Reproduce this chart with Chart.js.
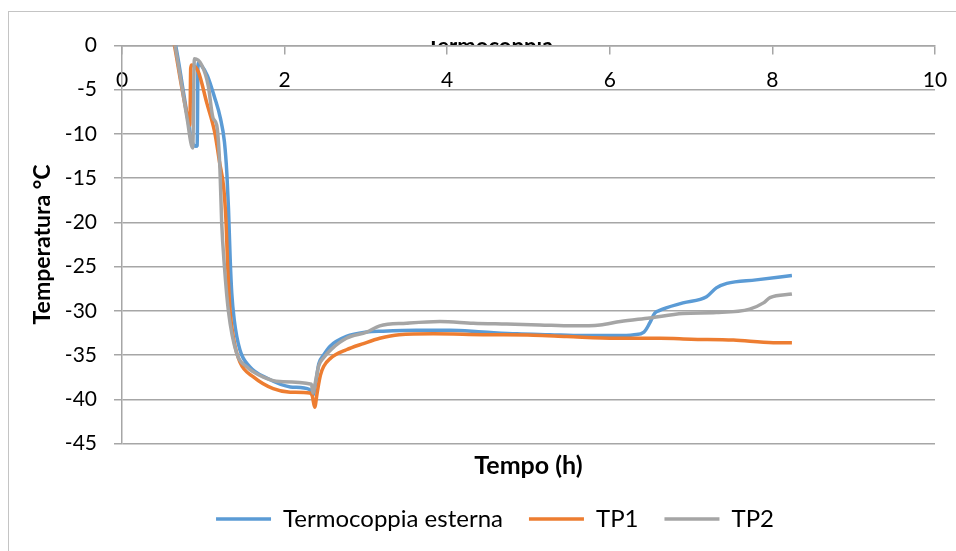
<!DOCTYPE html>
<html>
<head>
<meta charset="utf-8">
<script src="https://cdn.jsdelivr.net/npm/chart.js@4.4.1/dist/chart.umd.min.js"></script>
<style>
  body { margin: 0; background: #fff; }
  #wrap { width: 956px; height: 551px; }
</style>
</head>
<body>
<div id="wrap"><canvas id="tempChart"></canvas></div>
<script>
const chartTitle = 'Termocoppia';
const seriesNames = ['Termocoppia esterna', 'TP1', 'TP2'];

// tempo (h) / temperatura (°C)
const esternaX = [0.60, 0.66, 0.76, 0.86, 0.91, 0.925, 0.935, 0.98, 1.05, 1.14, 1.21, 1.26, 1.29, 1.31, 1.33, 1.35, 1.38, 1.45, 1.57, 1.78, 2.07, 2.31, 2.35, 2.38, 2.42, 2.48, 2.56, 2.76, 3.01, 3.21, 3.62, 4.03, 4.44, 4.86, 5.26, 5.67, 6.08, 6.30, 6.42, 6.49, 6.55, 6.60, 6.90, 7.19, 7.31, 7.44, 7.80, 8.24];
const esternaY = [2.0, 0, -5.5, -10.8, -11.4, -11.3, -2.0, -2.3, -3.4, -5.9, -8.2, -10.9, -14.5, -18.5, -24.0, -28.0, -31.0, -34.4, -36.3, -37.6, -38.6, -38.9, -39.5, -38.3, -36.0, -35.0, -34.0, -32.9, -32.4, -32.3, -32.2, -32.2, -32.4, -32.6, -32.7, -32.8, -32.8, -32.7, -32.4, -31.4, -30.3, -30.0, -29.1, -28.4, -27.4, -26.9, -26.5, -26.0];

const tp1X = [0.60, 0.645, 0.73, 0.80, 0.835, 0.845, 0.857, 0.94, 1.04, 1.14, 1.20, 1.25, 1.28, 1.30, 1.33, 1.38, 1.45, 1.62, 1.86, 2.07, 2.31, 2.34, 2.37, 2.40, 2.44, 2.48, 2.56, 2.76, 2.97, 3.17, 3.41, 3.83, 4.44, 5.06, 5.47, 6.08, 6.62, 7.00, 7.52, 8.01, 8.24];
const tp1Y = [2.0, 0, -4.5, -7.8, -9.0, -2.6, -2.2, -3.0, -6.4, -9.8, -13.2, -16.0, -20.0, -25.0, -30.1, -33.5, -35.8, -37.5, -38.8, -39.2, -39.3, -39.6, -40.9, -39.3, -37.3, -36.3, -35.4, -34.4, -33.7, -33.1, -32.7, -32.6, -32.7, -32.75, -32.9, -33.1, -33.1, -33.2, -33.3, -33.6, -33.6];

const tp2X = [0.60, 0.652, 0.734, 0.80, 0.87, 0.89, 0.98, 1.06, 1.12, 1.165, 1.205, 1.226, 1.26, 1.31, 1.41, 1.53, 1.74, 1.94, 2.33, 2.35, 2.38, 2.42, 2.48, 2.58, 2.76, 3.01, 3.17, 3.50, 3.91, 4.32, 4.73, 5.14, 5.55, 5.88, 6.13, 6.49, 6.90, 7.31, 7.72, 7.89, 7.97, 8.24];
const tp2Y = [2.2, 0, -4.5, -8.2, -11.6, -1.5, -2.2, -4.5, -8.2, -9.0, -14.0, -20.0, -25.0, -30.1, -34.8, -36.3, -37.5, -38.0, -38.3, -39.3, -38.0, -36.2, -35.3, -34.3, -33.1, -32.4, -31.7, -31.4, -31.2, -31.4, -31.5, -31.6, -31.7, -31.6, -31.2, -30.8, -30.3, -30.2, -29.8, -29.1, -28.5, -28.1];

const xMin = 0, xMax = 10, xStep = 2;
const yMin = -45, yMax = 0, yStep = 5;

const toPoints = (xs, ys) => xs.map((x, i) => ({ x: x, y: ys[i] }));

const gridGrey = '#a6a6a6';
Chart.defaults.font.family = 'Lato';
Chart.defaults.font.size = 21;
Chart.defaults.color = '#000';

// outer frame + the title, which sits almost entirely behind the plot area
const frameAndTitle = {
    id: 'frameAndTitle',
    afterLayout(chart) {
        // legend in the original is centred a bit right of the canvas middle
        chart.legend.left += 15;
        chart.legend.right += 15;
    },
    beforeDraw(chart) {
        const ctx = chart.ctx;
        ctx.save();
        ctx.strokeStyle = '#c4c4c4';
        ctx.lineWidth = 1;
        ctx.strokeRect(8.5, 11.5, 1000, 600);
        ctx.beginPath();
        ctx.rect(0, 41, chart.width, 5);
        ctx.clip();
        ctx.fillStyle = '#000';
        ctx.font = 'bold 22px Lato';
        ctx.textAlign = 'center';
        ctx.fillText(chartTitle, 490, 47);
        ctx.restore();
    }
};

const lineStyle = (color, order) => ({
    borderColor: color,
    backgroundColor: color,
    borderWidth: 3.5,
    pointRadius: 0,
    cubicInterpolationMode: 'monotone',
    fill: false,
    order: order
});

const tempChart = new Chart(document.getElementById('tempChart'), {
    type: 'line',
    data: {
        datasets: [
            { label: seriesNames[0], data: toPoints(esternaX, esternaY), ...lineStyle('#5b9bd5', 3) },
            { label: seriesNames[1], data: toPoints(tp1X, tp1Y), ...lineStyle('#ed7d31', 2) },
            { label: seriesNames[2], data: toPoints(tp2X, tp2Y), ...lineStyle('#a5a5a5', 1) }
        ]
    },
    options: {
        responsive: true,
        maintainAspectRatio: false,
        animation: false,
        layout: { padding: { left: 25, right: 21, top: 45.5, bottom: 10 } },
        scales: {
            x: {
                type: 'linear',
                position: { y: 0 },
                min: xMin,
                max: xMax,
                ticks: { stepSize: xStep, padding: 14 },
                grid: { drawOnChartArea: false, color: gridGrey, lineWidth: 1.5, tickLength: 8 },
                border: { color: gridGrey, width: 1.5 },
                afterFit: s => { s.paddingLeft = 0; s.paddingRight = 0; }
            },
            xTitle: {
                type: 'linear',
                position: 'bottom',
                min: xMin,
                max: xMax,
                ticks: { display: false },
                grid: { display: false },
                border: { display: false },
                title: { display: true, text: 'Tempo (h)', font: { size: 25, weight: 'bold' }, padding: 0 },
                afterFit: s => { s.height = 37.5; s.paddingLeft = 0; s.paddingRight = 0; }
            },
            y: {
                min: yMin,
                max: yMax,
                ticks: { stepSize: yStep, padding: 17 },
                grid: { color: gridGrey, lineWidth: 1.5, tickLength: 8 },
                border: { color: gridGrey, width: 1.5 },
                title: { display: true, text: 'Temperatura °C', font: { size: 23, weight: 'bold' } },
                afterFit: s => { s.width = 97; }
            }
        },
        plugins: {
            legend: {
                position: 'bottom',
                labels: {
                    usePointStyle: true,
                    pointStyle: 'line',
                    pointStyleWidth: 55,
                    padding: 26,
                    font: { size: 24 },
                    sort: (a, b) => a.datasetIndex - b.datasetIndex
                }
            },
            tooltip: { enabled: false }
        }
    },
    plugins: [frameAndTitle]
});
</script>
</body>
</html>
